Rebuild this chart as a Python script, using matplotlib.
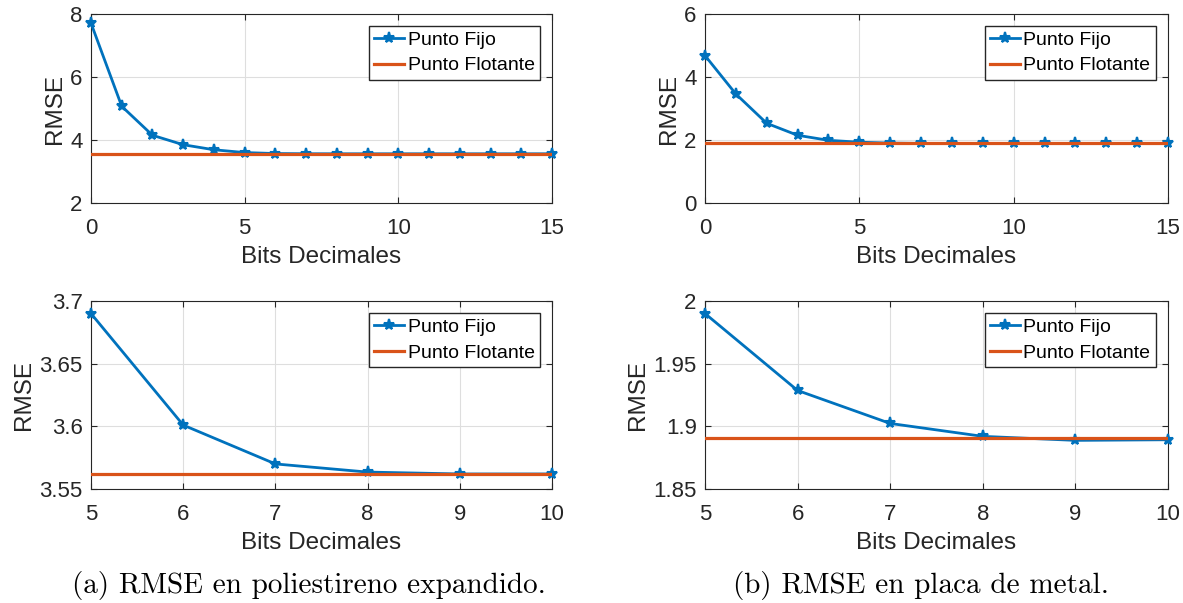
import numpy as np
import matplotlib
matplotlib.use("Agg")
import matplotlib.pyplot as plt

plt.rcParams['font.family'] = ['Liberation Sans', 'DejaVu Sans']

# data
bits_full = list(range(16))
fijo_eps = [7.71, 5.07, 4.15, 3.85, 3.69, 3.601, 3.570, 3.5635, 3.562, 3.562,
            3.562, 3.562, 3.562, 3.562, 3.562, 3.562]
flot_eps = 3.562
fijo_metal = [4.68, 3.46, 2.53, 2.15, 1.99, 1.93, 1.902, 1.892, 1.889, 1.889,
              1.890, 1.890, 1.890, 1.890, 1.890, 1.890]
flot_metal = 1.891

bits_zoom = [5, 6, 7, 8, 9, 10]
fijo_eps_zoom = [3.690, 3.601, 3.570, 3.5635, 3.562, 3.562]
fijo_metal_zoom = [1.990, 1.9286, 1.9023, 1.892, 1.8888, 1.8893]

captions = ["(a) RMSE en poliestireno expandido.", "(b) RMSE en placa de metal."]

blue = '#0072BD'
orange = '#D95319'
W, H = 1183, 603

fig = plt.figure(figsize=(W / 100, H / 100), dpi=100)


def make_ax(x0, y0, x1, y1):
    return fig.add_axes([x0 / W, 1 - y1 / H, (x1 - x0) / W, (y1 - y0) / H])


def fmt_plain(v):
    return ('%.2f' % v).rstrip('0').rstrip('.')


def style(ax, xlim, ylim, xticks, yticks):
    ax.set_xlim(*xlim)
    ax.set_ylim(*ylim)
    ax.set_xticks(xticks)
    ax.set_yticks(yticks)
    ax.set_yticklabels([fmt_plain(v) for v in yticks])
    ax.grid(True, color='#dedede', linewidth=0.8)
    ax.set_axisbelow(True)
    for s in ax.spines.values():
        s.set_color('#262626')
        s.set_linewidth(0.8)
    ax.tick_params(direction='in', length=4, width=0.8, colors='#262626',
                   labelsize=16, top=True, right=True)
    ax.tick_params(axis='x', pad=11)
    ax.tick_params(axis='y', pad=6)
    ax.set_xlabel('Bits Decimales', fontsize=17.5, color='#262626', labelpad=5)
    ax.set_ylabel('RMSE', fontsize=17.5, color='#262626', labelpad=3)
    ax.legend(loc='upper right', fontsize=14, frameon=True, fancybox=False,
              edgecolor='#262626', handlelength=1.5, handletextpad=0.2,
              borderpad=0.3, labelspacing=0.4, borderaxespad=0.6,
              framealpha=1)


panels = [
    (91, 14, 552, 203, bits_full, fijo_eps, flot_eps, (0, 15), (2, 8), [0, 5, 10, 15], [2, 4, 6, 8]),
    (705, 14, 1168, 203, bits_full, fijo_metal, flot_metal, (0, 15), (0, 6), [0, 5, 10, 15], [0, 2, 4, 6]),
    (91, 301, 552, 489, bits_zoom, fijo_eps_zoom, flot_eps, (5, 10), (3.55, 3.7), bits_zoom, [3.55, 3.6, 3.65, 3.7]),
    (705, 301, 1168, 489, bits_zoom, fijo_metal_zoom, flot_metal, (5, 10), (1.85, 2.0), bits_zoom, [1.85, 1.9, 1.95, 2.0]),
]

for x0, y0, x1, y1, xs, ys, flot, xlim, ylim, xt, yt in panels:
    ax = make_ax(x0, y0, x1, y1)
    ax.plot(xs, ys, color=blue, lw=2, marker='*', ms=8, mew=1.5, label='Punto Fijo',
            zorder=3, clip_on=False)
    ax.plot(xlim, [flot, flot], color=orange, lw=2.3, label='Punto Flotante', zorder=4)
    style(ax, xlim, ylim, xt, yt)

fig.text(309 / W, 1 - 585 / H, captions[0], family='cmr10', fontsize=21,
         ha='center', va='center')
fig.text(921 / W, 1 - 585 / H, captions[1], family='cmr10', fontsize=21,
         ha='center', va='center')

fig.savefig('out.png', dpi=100)
